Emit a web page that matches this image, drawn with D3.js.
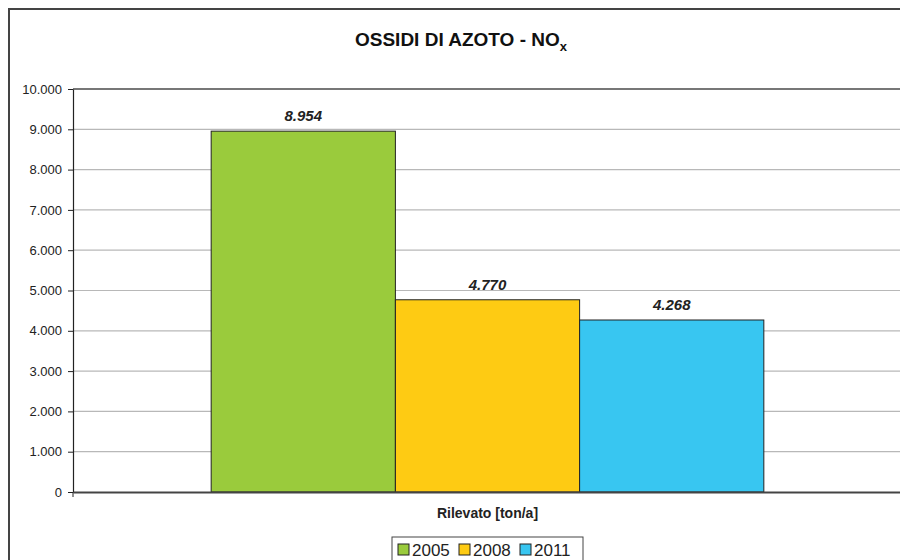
<!DOCTYPE html>
<html>
<head>
<meta charset="utf-8">
<script src="https://cdn.jsdelivr.net/npm/d3@7"></script>
<style>
  html, body { margin: 0; background: #fff; overflow: hidden; }
  svg { display: block; font-family: "Liberation Sans", Arial, sans-serif; }
</style>
</head>
<body>
<div id="chart"></div>
<script>
// Data
const categories = ["Rilevato [ton/a]"]
const years = ["2005", "2008", "2011"]
const values = [8954, 4770, 4268]
const yTicks = [0, 1000, 2000, 3000, 4000, 5000, 6000, 7000, 8000, 9000, 10000]
const colors = ["#9ACB3C", "#FECB13", "#38C6F1"]

const width = 900
const height = 560
const margin = { top: 89, right: -2, bottom: 68, left: 73 }
const graphWidth = width - margin.left - margin.right
const graphHeight = height - margin.top - margin.bottom

const fmt = v => d3.format(",")(v).replace(/,/g, ".")

const svg = d3.select("#chart").append("svg")
    .attr("width", width)
    .attr("height", height)

// outer frame
svg.append("rect")
    .attr("x", 9).attr("y", 9)
    .attr("width", 1000).attr("height", 1000)
    .attr("fill", "none")
    .attr("stroke", "#444")
    .attr("stroke-width", 2)

// title
const title = svg.append("text")
    .attr("x", 461).attr("y", 46)
    .attr("text-anchor", "middle")
    .style("font-size", "19px")
    .style("font-weight", "bold")
    .attr("fill", "#111")
title.append("tspan").text("OSSIDI DI AZOTO - NO")
title.append("tspan").attr("dy", 5).style("font-size", "13px").text("x")

const g = svg.append("g").attr("transform", `translate(${margin.left}, ${margin.top})`)

// scales
const x0 = d3.scaleBand().domain(categories).range([0, graphWidth])
const x1 = d3.scaleBand().domain(years)
    .range([x0.bandwidth() / 6, x0.bandwidth() * 5 / 6])
const y = d3.scaleLinear().domain([0, 10000]).range([graphHeight, 0])

// gridlines
g.selectAll(".grid")
    .data(yTicks.filter(t => t > 0 && t < 10000))
    .enter().append("line")
    .attr("x1", 0).attr("x2", graphWidth + 10)
    .attr("y1", d => y(d)).attr("y2", d => y(d))
    .attr("stroke", "#b8b8b8")
    .attr("stroke-width", 1.2)

// plot area top border
g.append("line")
    .attr("x1", 0).attr("x2", graphWidth + 10)
    .attr("y1", y(10000)).attr("y2", y(10000))
    .attr("stroke", "#777")
    .attr("stroke-width", 2)

// bars
const bars = g.selectAll(".bar")
    .data(years.map((yr, i) => ({ cat: categories[0], year: yr, value: values[i], color: colors[i] })))
    .enter()

bars.append("rect")
    .attr("class", "bar")
    .attr("x", d => x0(d.cat) + x1(d.year))
    .attr("y", d => y(d.value))
    .attr("width", x1.bandwidth())
    .attr("height", d => graphHeight - y(d.value))
    .attr("fill", d => d.color)
    .attr("stroke", "#222")
    .attr("stroke-width", 1)

bars.append("text")
    .attr("x", d => x0(d.cat) + x1(d.year) + x1.bandwidth() / 2)
    .attr("y", d => y(d.value) - 10)
    .attr("text-anchor", "middle")
    .style("font-size", "15px")
    .style("font-weight", "bold")
    .style("font-style", "italic")
    .attr("fill", "#222")
    .text(d => fmt(d.value))

// y axis
const yAxis = d3.axisLeft(y)
    .tickValues(yTicks)
    .tickFormat(fmt)
    .tickSizeInner(5)
    .tickSizeOuter(0)
    .tickPadding(6)
const yAxisGroup = g.append("g").call(yAxis)
yAxisGroup.select(".domain").attr("stroke", "#222").attr("stroke-width", 1.2)
yAxisGroup.selectAll(".tick line").attr("stroke", "#222")
yAxisGroup.selectAll("text")
    .style("font-size", "13px")
    .style("font-family", "'Liberation Sans', Arial, sans-serif")
    .attr("fill", "#222")

// x axis
const xAxis = d3.axisBottom(x0).tickSize(0).tickPadding(16).tickSizeOuter(0)
const xAxisGroup = g.append("g")
    .attr("transform", `translate(0, ${graphHeight})`)
    .call(xAxis)
xAxisGroup.select(".domain").attr("stroke", "#444").attr("stroke-width", 2)
xAxisGroup.selectAll("text")
    .style("font-size", "14px")
    .style("font-weight", "bold")
    .style("font-family", "'Liberation Sans', Arial, sans-serif")
    .attr("fill", "#222")
xAxisGroup.append("line")
    .attr("x1", 0).attr("x2", 0)
    .attr("y1", 0).attr("y2", 5)
    .attr("stroke", "#222")

// legend
const legend = svg.append("g").attr("transform", "translate(392, 537)")
legend.append("rect")
    .attr("width", 191).attr("height", 30)
    .attr("fill", "#fff")
    .attr("stroke", "#444")
    .attr("stroke-width", 1)
const items = legend.selectAll(".item")
    .data(years)
    .enter().append("g")
    .attr("transform", (d, i) => `translate(${6 + i * 61}, 0)`)
items.append("rect")
    .attr("x", 0).attr("y", 7)
    .attr("width", 11).attr("height", 11)
    .attr("fill", (d, i) => colors[i])
    .attr("stroke", "#222")
items.append("text")
    .attr("x", 14).attr("y", 19)
    .style("font-size", "17px")
    .attr("fill", "#222")
    .text(d => d)
</script>
</body>
</html>
